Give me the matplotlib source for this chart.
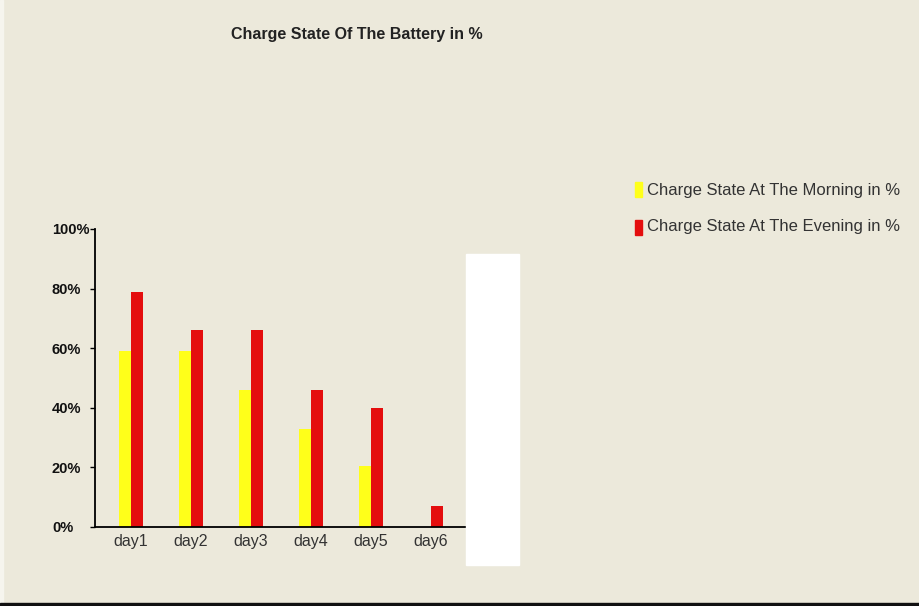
import numpy as np
import matplotlib
matplotlib.use("Agg")
import matplotlib.pyplot as plt
import matplotlib.patches as mpatches

days = ["day1", "day2", "day3", "day4", "day5", "day6"]
morning = [59, 59, 46, 33, 20.5, 0]
evening = [79, 66, 66, 46, 40, 7]
y_ticks = [0, 20, 40, 60, 80, 100]
y_labels = ["0%", "20%", "40%", "60%", "80%", "100%"]
series_labels = ["Charge State At The Morning in %", "Charge State At The Evening in %"]
title = "Charge State Of The Battery in %"

BG = "#ECE9DB"
YELLOW = "#FFFF1A"
RED = "#E40E0E"
W, H = 919, 606

plt.rcParams["font.family"] = ["Liberation Sans", "DejaVu Sans"]
fig = plt.figure(figsize=(W / 100, H / 100), dpi=100, facecolor=BG)

# axes box in pixels: left 95, right 466, bottom 527, top 229
ax = fig.add_axes([95 / W, (H - 527) / H, (466 - 95) / W, (527 - 229) / H])
ax.set_facecolor(BG)

x = np.arange(len(days))
bw = 0.2
ax.bar(x - bw / 2, morning, width=bw, color=YELLOW, linewidth=0, zorder=2)
ax.bar(x + bw / 2, evening, width=bw, color=RED, linewidth=0, zorder=2)

ax.set_xlim(-0.6, 5.58)
ax.set_ylim(0, 100)
ax.set_yticks(y_ticks)
ax.set_yticklabels(y_labels, fontsize=10.5, fontweight="bold", color="#111111", ha="left")
ax.tick_params(axis="y", length=3.5, width=1, direction="out", pad=27.5)
ax.set_xticks(x)
ax.set_xticklabels(days, fontsize=11.5, color="#333333")
ax.tick_params(axis="x", length=0, pad=5)

for s in ["top", "right"]:
    ax.spines[s].set_visible(False)
ax.spines["left"].set_linewidth(1.3)
ax.spines["bottom"].set_linewidth(1.3)

fig.text(357 / W, 1 - 34 / H, title, ha="center", va="center",
         fontsize=11.5, fontweight="bold", color="#222222")

# legend
for i, (lab, col) in enumerate(zip(series_labels, [YELLOW, RED])):
    yc = 190 + i * 37
    fig.patches.append(mpatches.Rectangle((635 / W, 1 - (yc + 7.5) / H), 7 / W, 15 / H,
                                          transform=fig.transFigure, color=col, figure=fig))
    fig.text(647 / W, 1 - yc / H, lab, ha="left", va="center", fontsize=12, color="#333333")

# white box covering the right end of the axis
fig.patches.append(mpatches.Rectangle((466 / W, 1 - 565 / H), 53 / W, 311 / H,
                                      transform=fig.transFigure, color="white",
                                      figure=fig, zorder=5))
# light left edge and dark bottom border
fig.patches.append(mpatches.Rectangle((0, 0), 3 / W, 1, transform=fig.transFigure,
                                      color="#F6F5EE", figure=fig, zorder=5))
fig.patches.append(mpatches.Rectangle((0, 0), 1, 3 / H, transform=fig.transFigure,
                                      color="#111111", figure=fig, zorder=6))

fig.savefig("out.png", dpi=100, facecolor=BG)
